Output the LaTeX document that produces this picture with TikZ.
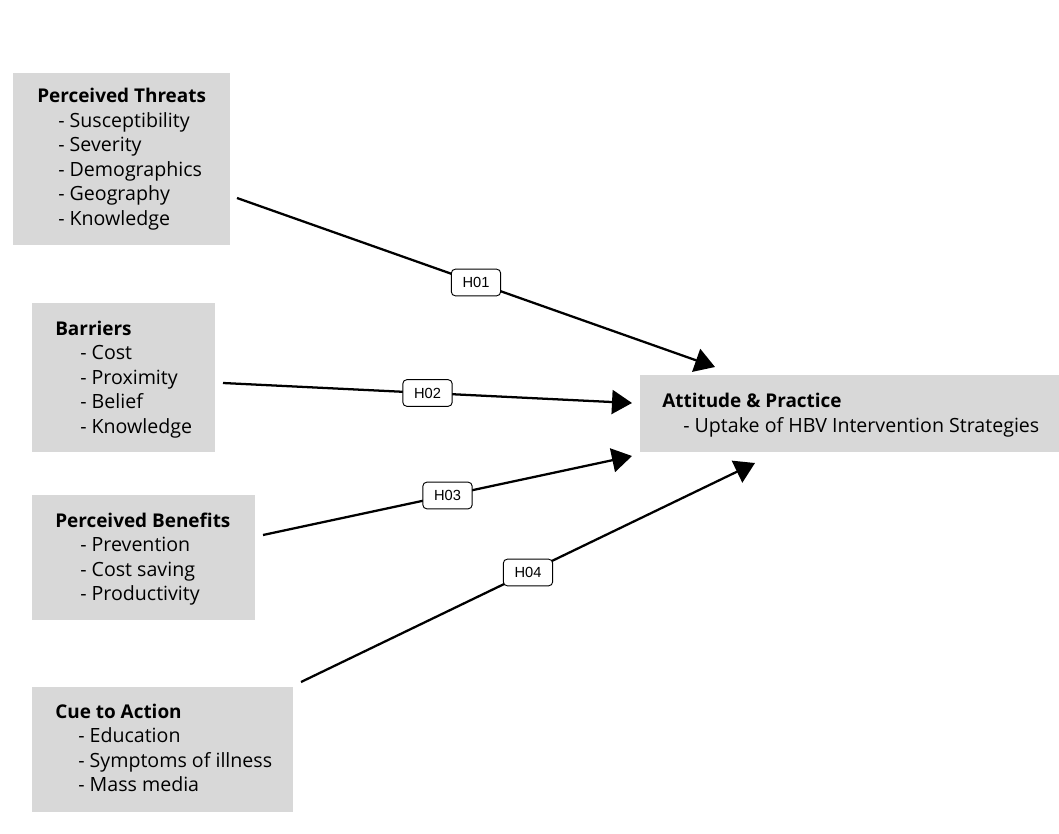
\documentclass[tikz,border=0pt]{standalone}
\usepackage{fontspec}
\setmainfont{Open Sans}
\newfontfamily\labelfont{Liberation Sans}
\usetikzlibrary{arrows.meta,fit}

\definecolor{boxgray}{RGB}{216,216,216}

\begin{document}
\begin{tikzpicture}[x=0.75pt,y=-0.75pt,
    catbox/.style={fill=boxgray,draw=none,inner sep=0pt},
    cattitle/.style={anchor=base west,inner sep=0pt,font=\fontsize{14.2}{17}\selectfont\bfseries},
    catitem/.style={anchor=base west,inner sep=0pt,font=\fontsize{14.7}{17}\selectfont},
    hyp/.style={line width=1.7pt,-{Triangle[length=15pt,width=18pt]}},
    hyplabel/.style={draw,fill=white,rounded corners=3pt,line width=0.7pt,minimum width=37pt,minimum height=20pt,inner sep=0pt,font=\labelfont\fontsize{11}{12}\selectfont}]
        \useasboundingbox (0,0) rectangle (1059,834);

        \node[catbox,fit={(13,73) (230,245)}] (threats) {};
        \node[catbox,fit={(32,303) (215,452)}] (barriers) {};
        \node[catbox,fit={(32,495) (255,620)}] (benefits) {};
        \node[catbox,fit={(32,687) (293,812)}] (cue) {};
        \node[catbox,fit={(640,375) (1059,452)}] (attitude) {};

        \node[cattitle] (threats-t) at (37,103) {Perceived Threats};
        \foreach[count=\i] \txt in {Susceptibility,Severity,Demographics,Geography,Knowledge} {
          \node[catitem] (threats-\i) at (58,{103+24.5*\i}) {- \txt};
        }

        \node[cattitle] (barriers-t) at (55,335) {Barriers};
        \foreach[count=\i] \txt in {Cost,Proximity,Belief,Knowledge} {
          \node[catitem] (barriers-\i) at (80,{335+24.5*\i}) {- \txt};
        }

        \node[cattitle] (benefits-t) at (55,527) {Perceived Benefits};
        \foreach[count=\i] \txt in {Prevention,Cost saving,Productivity} {
          \node[catitem] (benefits-\i) at (80,{527+24.5*\i}) {- \txt};
        }

        \node[cattitle] (cue-t) at (55,718) {Cue to Action};
        \foreach[count=\i] \txt in {Education,Symptoms of illness,Mass media} {
          \node[catitem] (cue-\i) at (78,{718+24.5*\i}) {- \txt};
        }

        \node[cattitle] (attitude-t) at (662,407) {Attitude \& Practice};
        \node[catitem] (attitude-1) at (683,432) {- Uptake of HBV Intervention Strategies};

        % hypotheses
        \coordinate (threats-out) at (237,198);
        \coordinate (barriers-out) at (223,383);
        \coordinate (benefits-out) at (263,535);
        \coordinate (cue-out) at (301,682);
        \coordinate (attitude-in1) at (715,367);
        \coordinate (attitude-in2) at (632,403);
        \coordinate (attitude-in3) at (632,456);
        \coordinate (attitude-in4) at (755,463);

        \draw[hyp] (threats-out) -- node[hyplabel] (h01) {H01} (attitude-in1);
        \draw[hyp] (barriers-out) -- node[hyplabel] (h02) {H02} (attitude-in2);
        \draw[hyp] (benefits-out) -- node[hyplabel] (h03) {H03} (attitude-in3);
        \draw[hyp] (cue-out) -- node[hyplabel] (h04) {H04} (attitude-in4);
      \end{tikzpicture}
\end{document}
